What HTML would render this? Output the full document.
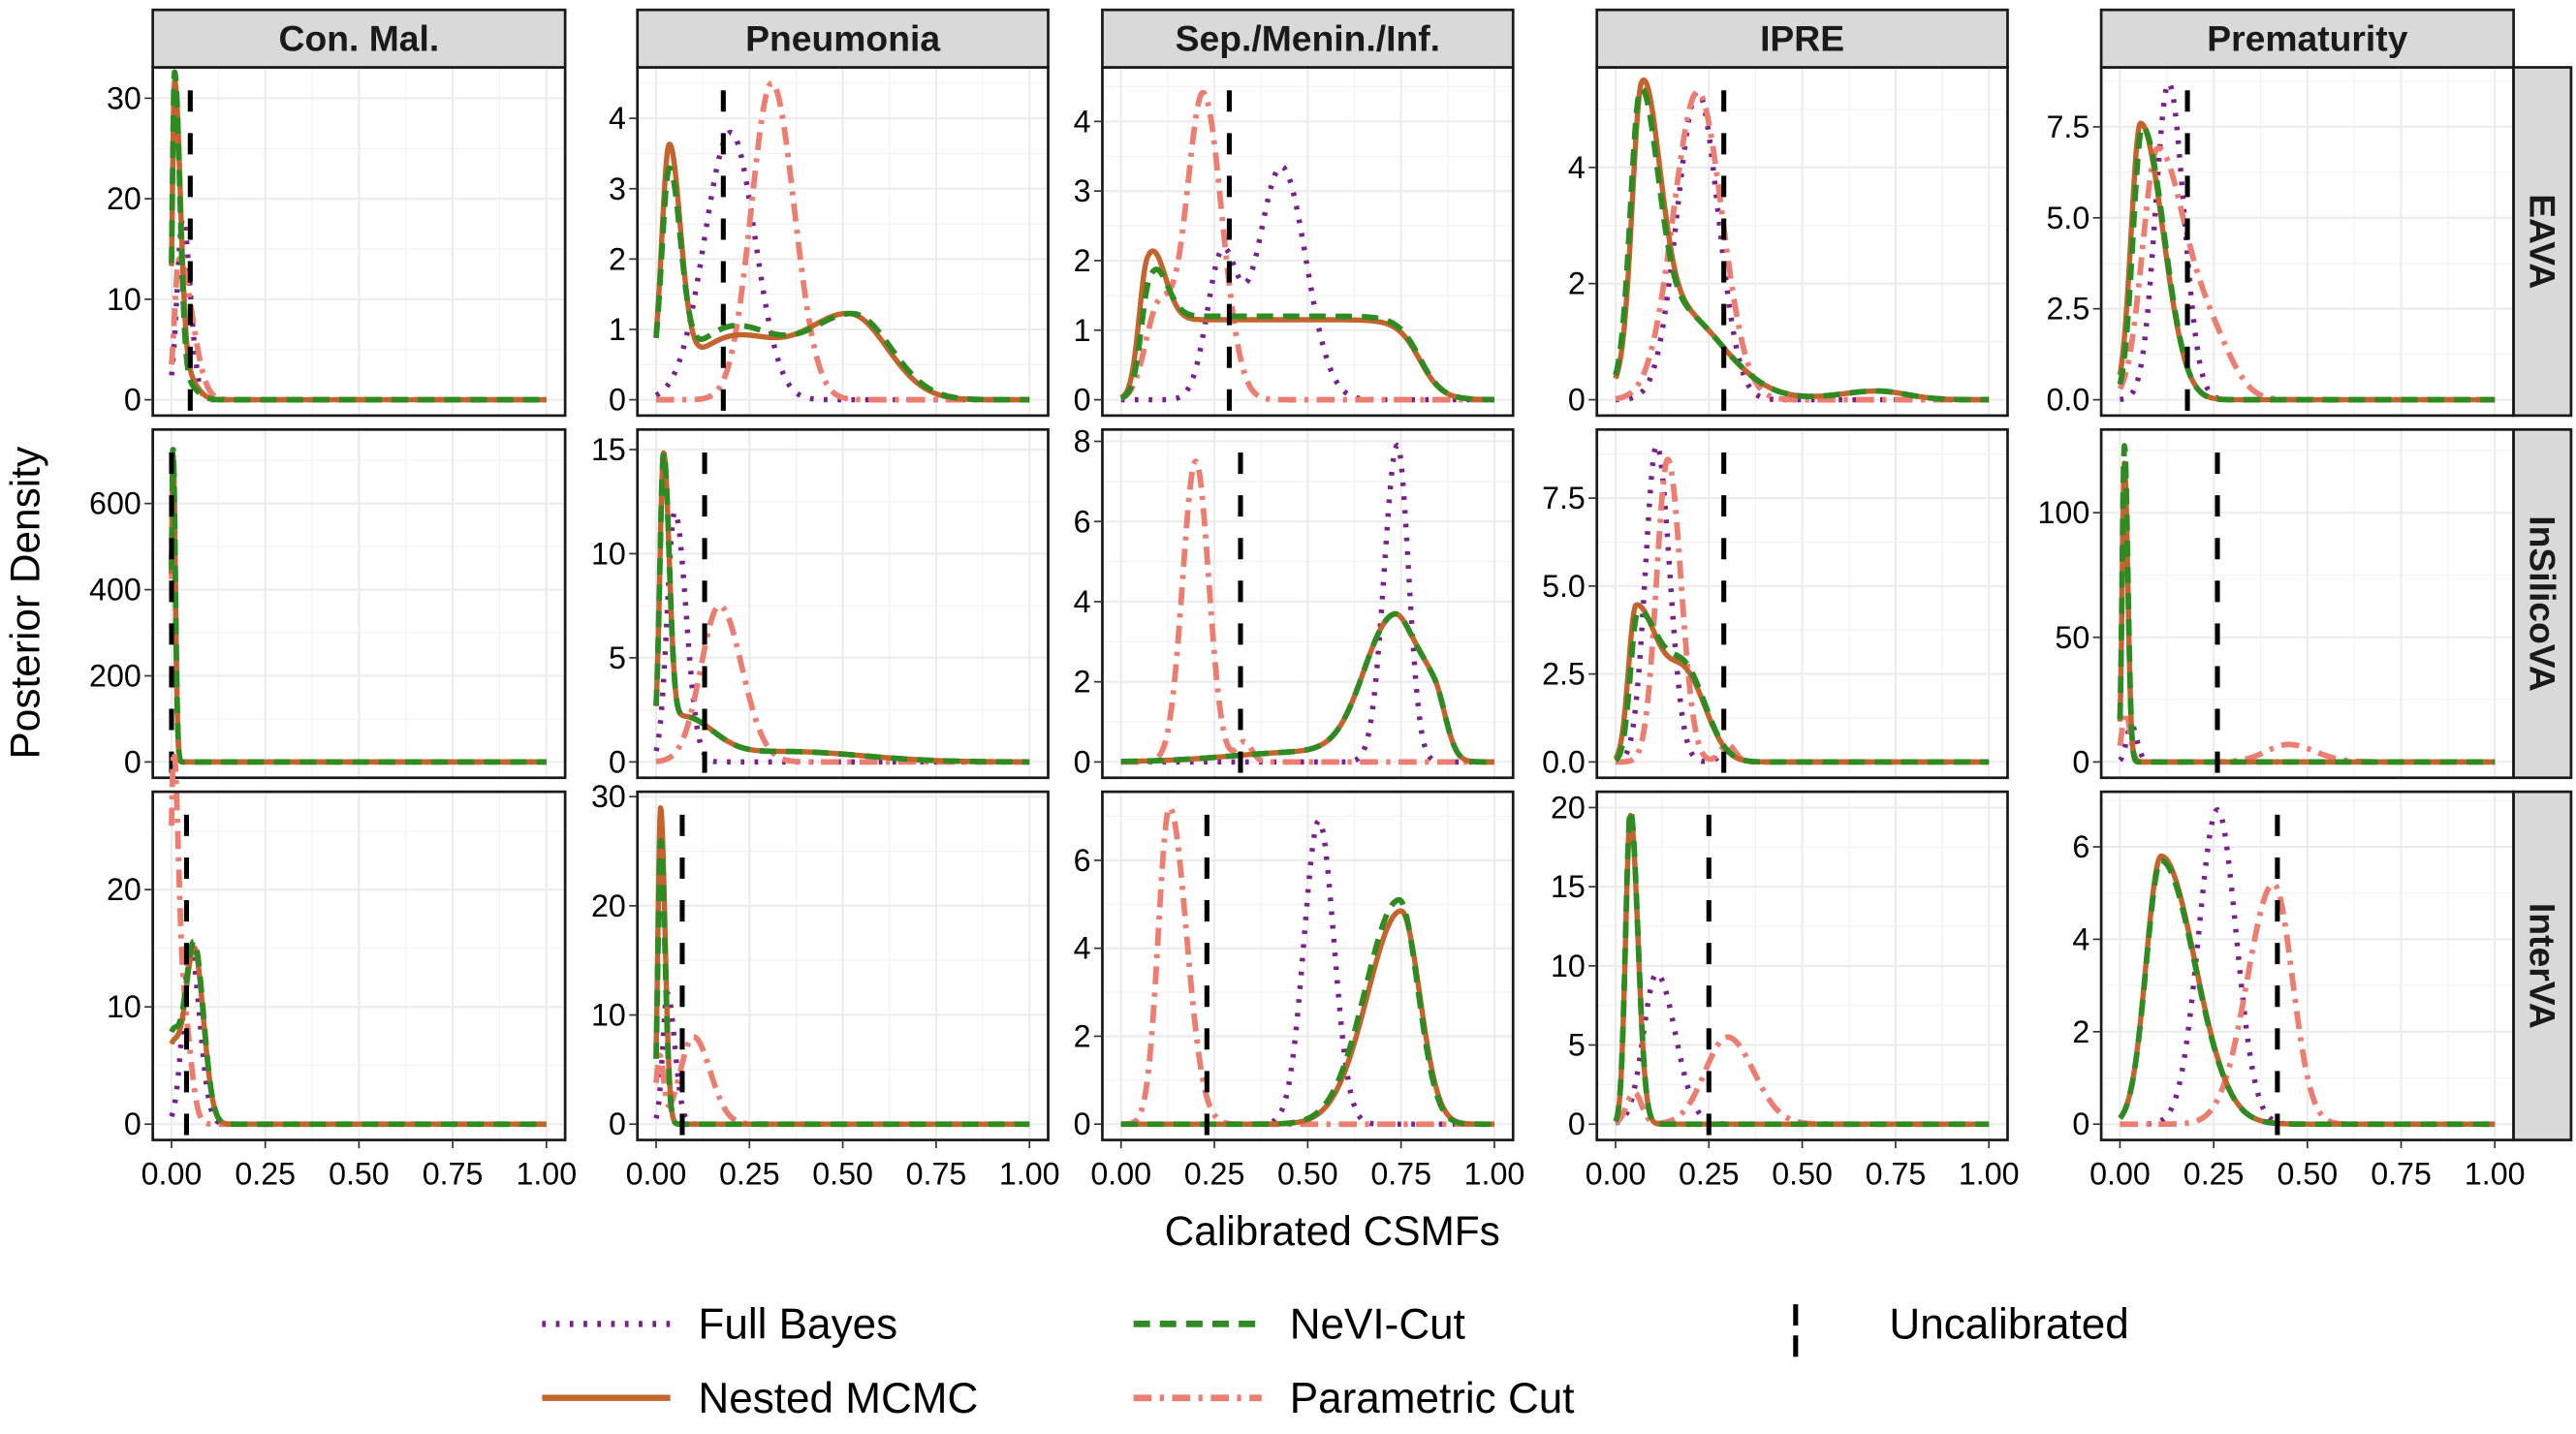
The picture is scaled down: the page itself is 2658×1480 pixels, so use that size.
<!DOCTYPE html>
<html><head><meta charset="utf-8">
<style>
html,body{margin:0;padding:0;background:#fff;}
svg{display:block;}
text{font-family:"Liberation Sans",Arial,sans-serif;}
</style></head>
<body>
<svg id="s" xmlns="http://www.w3.org/2000/svg" width="2658" height="1480" viewBox="0 0 1568 873" preserveAspectRatio="none"></svg>
<script>
const S=document.getElementById('s');
let out='';
const cols=[[93,344],[388,638],[671,921],[972,1222],[1279,1530]];
const rows=[[41,253],[261.5,473.5],[482,694]];
const colNames=['Con. Mal.','Pneumonia','Sep./Menin./Inf.','IPRE','Prematurity'];
const rowNames=['EAVA','InSilicoVA','InterVA'];
const C={p:'#7A1F8E',g:'#2E8B22',o:'#C4632C',k:'#EE7D71'};
function G(a,m,sl,sr){return [a,m,sl,sr===undefined?sl:sr];}
function box(a,l,r,wl,wr){return {box:[a,l,r,wl,wr]};}
const P=[
[{M:31.5,t:[0,10,20,30],v:0.05,
  p:[G(18,0.03,0.015,0.02)],k:[G(14,0.02,0.012,0.035)],o:[G(30,0.008,0.006,0.015),G(3,0.03,0.02,0.03)],g:[G(31.5,0.008,0.006,0.014),G(2,0.03,0.02,0.03)]},
 {M:4.5,t:[0,1,2,3,4],v:0.18,
  p:[G(3.8,0.2,0.07,0.065)],k:[G(4.5,0.31,0.055,0.06)],o:[G(3.3,0.035,0.02,0.03),G(0.85,0.2,0.12,0.12),G(1.2,0.52,0.13,0.1)],g:[G(2.9,0.035,0.02,0.03),G(1.0,0.2,0.12,0.12),G(1.2,0.53,0.13,0.1)]},
 {M:4.55,t:[0,1,2,3,4],v:0.29,
  p:[G(2.0,0.27,0.04,0.04),G(3.35,0.43,0.065,0.065)],k:[G(1.3,0.1,0.035,0.04),G(4.4,0.22,0.045,0.05)],o:[G(1.6,0.07,0.022,0.04),box(1.15,0.08,0.8,0.02,0.03)],g:[G(1.2,0.075,0.022,0.04),box(1.2,0.08,0.8,0.02,0.03)]},
 {M:5.45,t:[0,2,4],v:0.29,
  p:[G(5.3,0.22,0.055,0.055)],k:[G(5.3,0.22,0.065,0.065)],o:[G(4.5,0.07,0.025,0.045),G(1.6,0.15,0.08,0.13),G(0.15,0.7,0.1,0.08)],g:[G(4.4,0.065,0.025,0.045),G(1.6,0.15,0.08,0.13),G(0.15,0.7,0.1,0.08)]},
 {M:8.7,t:[0,2.5,5,7.5],v:0.18,lab:['0.0','2.5','5.0','7.5'],
  p:[G(8.7,0.13,0.035,0.04)],k:[G(6.8,0.1,0.04,0.07),G(1.6,0.24,0.06,0.06)],o:[G(7.6,0.055,0.025,0.06)],g:[G(7.5,0.06,0.025,0.058)]}],
[{M:735,t:[0,200,400,600],v:0.0,
  p:[G(720,0.004,0.004,0.006)],k:[G(700,0.004,0.004,0.006)],o:[G(720,0.004,0.004,0.006)],g:[G(735,0.004,0.004,0.006)]},
 {M:15.2,t:[0,5,10,15],v:0.13,
  p:[G(12,0.05,0.02,0.03)],k:[G(7.5,0.17,0.05,0.06)],o:[G(13.5,0.02,0.01,0.015),G(2,0.07,0.05,0.08),G(0.5,0.35,0.2,0.2)],g:[G(13.5,0.02,0.01,0.015),G(2,0.07,0.05,0.08),G(0.5,0.35,0.2,0.2)]},
 {M:7.9,t:[0,2,4,6,8],v:0.32,
  p:[G(7.9,0.74,0.035,0.03)],k:[G(7.5,0.2,0.035,0.035),G(0.5,0.33,0.02,0.02)],o:[G(3.6,0.73,0.08,0.06),G(1.4,0.84,0.045,0.03),G(0.25,0.5,0.2,0.1)],g:[G(3.6,0.73,0.08,0.06),G(1.4,0.84,0.045,0.03),G(0.25,0.5,0.2,0.1)]},
 {M:9.0,t:[0,2.5,5,7.5],v:0.29,lab:['0.0','2.5','5.0','7.5'],
  p:[G(9,0.11,0.03,0.035),G(0.3,0.3,0.02,0.02)],k:[G(8.6,0.14,0.03,0.035),G(0.5,0.3,0.02,0.02)],o:[G(4.4,0.055,0.02,0.06),G(2.3,0.19,0.05,0.055)],g:[G(4.2,0.06,0.02,0.06),G(2.4,0.19,0.05,0.055)]},
 {M:127,t:[0,50,100],v:0.26,
  p:[G(15,0.03,0.012,0.015)],k:[G(20,0.015,0.01,0.012),G(7,0.45,0.06,0.07)],o:[G(120,0.012,0.006,0.009)],g:[G(127,0.012,0.006,0.009)]}],
[{M:27,t:[0,10,20],v:0.04,
  p:[G(15,0.05,0.02,0.025)],k:[G(27,0.005,0.008,0.012),G(10,0.03,0.02,0.02)],o:[G(6,0.0,0.02,0.02),G(15,0.06,0.025,0.025)],g:[G(7,0.0,0.02,0.02),G(15.5,0.06,0.025,0.025)]},
 {M:29,t:[0,10,20,30],v:0.07,
  p:[G(12,0.03,0.012,0.02)],k:[G(6,0.01,0.01,0.01),G(8,0.1,0.035,0.045)],o:[G(29,0.012,0.007,0.012)],g:[G(26,0.012,0.007,0.012)]},
 {M:7.2,t:[0,2,4,6],v:0.23,
  p:[G(6.9,0.53,0.04,0.04)],k:[G(7.2,0.13,0.03,0.045)],o:[G(4.85,0.75,0.09,0.05)],g:[G(5.1,0.745,0.09,0.05)]},
 {M:20,t:[0,5,10,15,20],v:0.25,
  p:[G(9.5,0.11,0.035,0.05)],k:[G(2,0.05,0.02,0.02),G(5.5,0.3,0.06,0.07)],o:[G(19.5,0.04,0.013,0.02)],g:[G(19.8,0.04,0.013,0.02)]},
 {M:6.85,t:[0,2,4,6],v:0.42,
  p:[G(6.8,0.26,0.05,0.05)],k:[G(5.2,0.41,0.07,0.05)],o:[G(5.8,0.11,0.04,0.09)],g:[G(5.7,0.11,0.04,0.09)]}]
];
function sig(z){return 1/(1+Math.exp(-z));}
function ev(comps,x){let y=0;for(const c of comps){if(c.box){const[a,l,r,wl,wr]=c.box;y+=a*sig((x-l)/wl)*sig((r-x)/wr);}else{const[a,m,sl,sr]=c;const s=x<m?sl:sr;y+=a*Math.exp(-(x-m)*(x-m)/(2*s*s));}}return y;}
const styles={p:{c:C.p,d:'2.2 6.2',w:3.2},k:{c:C.k,d:'11 5 2.5 5',w:3.4},o:{c:C.o,d:'',w:3.2},g:{c:C.g,d:'10 6',w:3.4}};
for(let r=0;r<3;r++)for(let c=0;c<5;c++){
  const[x0,x1]=cols[c],[y0,y1]=rows[r];const p=P[r][c];
  const W=x1-x0,H=y1-y0;
  const X=v=>x0+W*(0.05+v)/1.1;
  const Y=v=>y1-H*(0.05*p.M+v)/(1.1*p.M);
  for(let v=0.125;v<1.1;v+=0.25)out+=`<line x1="${X(v)}" x2="${X(v)}" y1="${y0}" y2="${y1}" stroke="#f2f2f2" stroke-width="0.7"/>`;
  const t=p.t,st=t[1]-t[0];
  for(let v=t[0]-st/2;v<=p.M*1.06;v+=st){if(v>-0.05*p.M)out+=`<line x1="${x0}" x2="${x1}" y1="${Y(v)}" y2="${Y(v)}" stroke="#f2f2f2" stroke-width="0.7"/>`;}
  for(let v=0;v<=1.001;v+=0.25)out+=`<line x1="${X(v)}" x2="${X(v)}" y1="${y0}" y2="${y1}" stroke="#ebebeb" stroke-width="1.2"/>`;
  t.forEach(v=>{out+=`<line x1="${x0}" x2="${x1}" y1="${Y(v)}" y2="${Y(v)}" stroke="#ebebeb" stroke-width="1.2"/>`;});
  ['p','k','o','g'].forEach(k=>{const s=styles[k];let d='';
    for(let i=0;i<=600;i++){const x=i/600;const y=ev(p[k],x);d+=(i?'L':'M')+X(x).toFixed(2)+' '+Y(y).toFixed(2);}
    out+=`<path d="${d}" fill="none" stroke="${s.c}" stroke-width="${s.w}" ${s.d?`stroke-dasharray="${s.d}"`:''} stroke-linejoin="round"/>`;});
  out+=`<line x1="${X(p.v)}" x2="${X(p.v)}" y1="${y0+14}" y2="${y1}" stroke="#000" stroke-width="3" stroke-dasharray="13 13"/>`;
  out+=`<rect x="${x0}" y="${y0}" width="${W}" height="${H}" fill="none" stroke="#1a1a1a" stroke-width="1.6"/>`;
  t.forEach((v,i)=>{const yy=Y(v);out+=`<line x1="${x0-5}" x2="${x0}" y1="${yy}" y2="${yy}" stroke="#333" stroke-width="1"/><text x="${x0-7}" y="${yy+6.5}" font-size="19" text-anchor="end" fill="#000">${p.lab?p.lab[i]:v}</text>`;});
  if(r==2){[0,0.25,0.5,0.75,1].forEach(v=>{const xx=X(v);out+=`<line x1="${xx}" x2="${xx}" y1="${y1}" y2="${y1+5}" stroke="#333" stroke-width="1"/><text x="${xx}" y="${y1+27}" font-size="19" text-anchor="middle" fill="#000">${v.toFixed(2)}</text>`;});}
}
for(let c=0;c<5;c++){const[x0,x1]=cols[c];out+=`<rect x="${x0}" y="6" width="${x1-x0}" height="35" fill="#d9d9d9" stroke="#1a1a1a" stroke-width="1.6"/><text x="${(x0+x1)/2}" y="31" font-size="22" font-weight="bold" text-anchor="middle" fill="#1a1a1a">${colNames[c]}</text>`;}
for(let r=0;r<3;r++){const[y0,y1]=rows[r];const cy=(y0+y1)/2;out+=`<rect x="1530" y="${y0}" width="35" height="${y1-y0}" fill="#d9d9d9" stroke="#1a1a1a" stroke-width="1.6"/><text transform="translate(1540,${cy}) rotate(90)" font-size="22" font-weight="bold" text-anchor="middle" fill="#1a1a1a">${rowNames[r]}</text>`;}
out+=`<text transform="translate(24,367) rotate(-90)" font-size="25" text-anchor="middle" fill="#000">Posterior Density</text>`;
out+=`<text x="811" y="758" font-size="25" text-anchor="middle" fill="#000">Calibrated CSMFs</text>`;
function leg(x,y,k,label){const s=styles[k];out+=`<line x1="${x}" x2="${x+78}" y1="${y}" y2="${y}" stroke="${s.c}" stroke-width="${s.w+0.6}" ${s.d?`stroke-dasharray="${s.d}"`:''}/><text x="${x+95}" y="${y+9}" font-size="26" fill="#000">${label}</text>`;}
leg(330,806,'p','Full Bayes');leg(330,851,'o','Nested MCMC');leg(690,806,'g','NeVI-Cut');leg(690,851,'k','Parametric Cut');
out+=`<line x1="1093" x2="1093" y1="794" y2="826" stroke="#000" stroke-width="3" stroke-dasharray="13 6"/><text x="1150" y="815" font-size="26" fill="#000">Uncalibrated</text>`;
S.innerHTML=out;
</script>
</body></html>
